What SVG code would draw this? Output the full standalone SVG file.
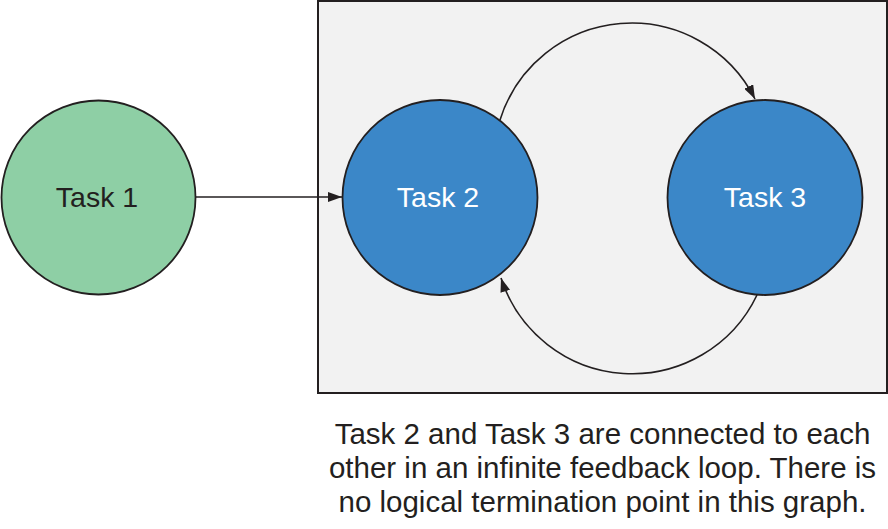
<svg xmlns="http://www.w3.org/2000/svg" width="888" height="529" viewBox="0 0 888 529">
<defs>
<style>
.node{stroke:#231f20;stroke-width:1.8}
.lbl{font-family:"Liberation Sans",Arial,sans-serif;font-size:28.5px;text-anchor:middle}
.conn{fill:none;stroke:#231f20;stroke-width:1.6}
.cap{font-family:"Liberation Sans",Arial,sans-serif;font-size:29.5px;fill:#231f20;text-anchor:middle}
</style>
<marker id="ah" viewBox="0 0 14 10" refX="14" refY="5" markerWidth="14" markerHeight="10" markerUnits="userSpaceOnUse" orient="auto">
<path d="M0,0 L14,5 L0,10 Z" fill="#231f20"/>
</marker>
</defs>
<rect id="boundary" x="318" y="1" width="569" height="392" fill="#f2f2f2" stroke="#231f20" stroke-width="2"/>
<g id="connectors">
<line class="conn" x1="196" y1="197" x2="342" y2="197" marker-end="url(#ah)"/>
<path class="conn" d="M500,120 A138,138 0 0 1 755,99" marker-end="url(#ah)"/>
<path class="conn" d="M757,295 A138,138 0 0 1 501,278" marker-end="url(#ah)"/>
</g>
<g id="task1">
<circle class="node" cx="98.5" cy="197.5" r="97" fill="#8ecfa5"/>
<text class="lbl" x="97" y="207" fill="#231f20">Task 1</text>
</g>
<g id="task2">
<circle class="node" cx="440" cy="197.5" r="97.5" fill="#3b87c8"/>
<text class="lbl" x="438" y="207" fill="#ffffff">Task 2</text>
</g>
<g id="task3">
<circle class="node" cx="765" cy="197.5" r="97.5" fill="#3b87c8"/>
<text class="lbl" x="765" y="207" fill="#ffffff">Task 3</text>
</g>
<g id="caption">
<text class="cap" x="602.5" y="444">Task 2 and Task 3 are connected to each</text>
<text class="cap" x="602.5" y="478">other in an infinite feedback loop. There is</text>
<text class="cap" x="602.5" y="512">no logical termination point in this graph.</text>
</g>
</svg>
